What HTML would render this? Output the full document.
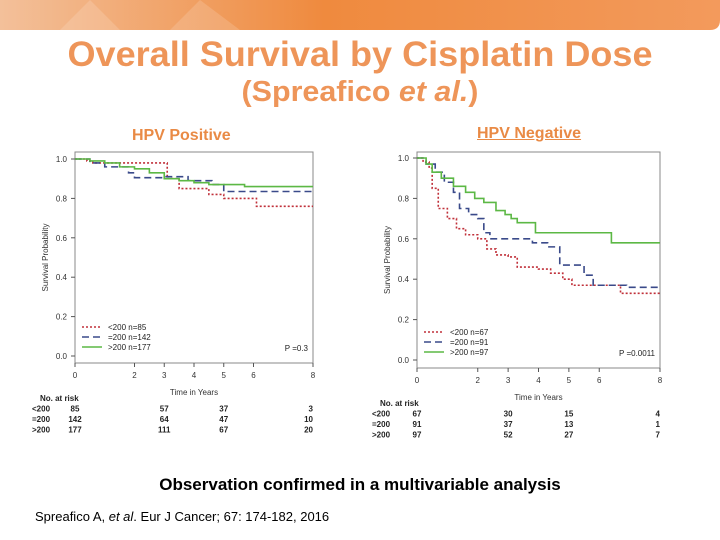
<!DOCTYPE html>
<html><head><meta charset="utf-8"><style>
body{margin:0;width:720px;height:540px;overflow:hidden;background:#fff;font-family:"Liberation Sans",sans-serif;position:relative}
.t{position:absolute;white-space:nowrap}
</style></head><body>
<svg width="720" height="32" style="position:absolute;left:0;top:0">
<defs><linearGradient id="g" x1="0" x2="1"><stop offset="0" stop-color="#f3c09a"/><stop offset="0.45" stop-color="#ef8a3e"/><stop offset="1" stop-color="#f39a5c"/></linearGradient></defs>
<path d="M0 0H720V20Q720 30 710 30H0Z" fill="url(#g)"/>
<path d="M60 30L90 0L120 30Z M170 30L200 0L240 30Z" fill="#fff" opacity="0.15"/>
</svg>
<div class="t" style="left:0;width:720px;text-align:center;top:35px;font-size:35px;font-weight:bold;color:#ee9559;transform:scaleX(1.03)">Overall Survival by Cisplatin Dose</div>
<div class="t" style="left:0;width:720px;text-align:center;top:76px;font-size:29px;font-weight:bold;color:#ee9559;transform:scaleX(1.05)">(Spreafico <i>et al.</i>)</div>
<div class="t" style="left:132px;top:127px;font-size:16px;font-weight:bold;color:#e98a45">HPV Positive</div>
<div class="t" style="left:477px;top:125px;font-size:16px;font-weight:bold;color:#e98a45;text-decoration:underline">HPV Negative</div>
<div class="t" style="left:0;width:720px;text-align:center;top:475px;font-size:17px;font-weight:bold;color:#000">Observation confirmed in a multivariable analysis</div>
<div class="t" style="left:35px;top:509px;font-size:13px;color:#000">Spreafico A, <i>et al</i>. Eur J Cancer; 67: 174-182, 2016</div>
<svg id="c" width="720" height="540" style="position:absolute;left:0;top:0"></svg>
<script>
const posRedT=[0,0.4,0.6,2.9,3.1,3.5,4.5,5.0,6.1];
const posRedS=[1,0.99,0.98,0.98,0.9,0.85,0.82,0.80,0.76];
const posBlueT=[0,0.5,1.0,1.8,2.0,3.0,3.8,4.6,5.0];
const posBlueS=[1,0.98,0.96,0.93,0.905,0.91,0.89,0.87,0.835];
const posGreenT=[0,0.5,1.0,1.5,2.0,2.5,3.0,3.5,4.0,4.5,5.7];
const posGreenS=[1,0.99,0.98,0.96,0.95,0.93,0.90,0.89,0.88,0.87,0.86];
const negRedT=[0,0.2,0.4,0.5,0.7,1.0,1.3,1.6,2.0,2.3,2.6,3.0,3.3,4.0,4.4,4.8,5.1,6.7];
const negRedS=[1,0.98,0.95,0.85,0.75,0.70,0.65,0.62,0.60,0.55,0.52,0.51,0.46,0.45,0.43,0.40,0.37,0.33];
const negBlueT=[0,0.3,0.6,0.9,1.2,1.4,1.7,2.0,2.2,2.4,3.8,4.3,4.7,5.5,5.8,6.9];
const negBlueS=[1,0.97,0.93,0.88,0.83,0.75,0.72,0.70,0.63,0.60,0.58,0.56,0.47,0.42,0.37,0.36];
const negGreenT=[0,0.3,0.5,0.8,1.2,1.6,1.9,2.2,2.6,2.9,3.1,3.3,3.9,6.4];
const negGreenS=[1,0.97,0.93,0.90,0.86,0.83,0.80,0.78,0.74,0.72,0.70,0.68,0.63,0.58];
const xTicks=[0,2,3,4,5,6,8];
const yTicks=[0,0.2,0.4,0.6,0.8,1.0];
const riskCols=[0,3,5,8];
const posRisk=[["<200",85,57,37,3],["=200",142,64,47,10],[">200",177,111,67,20]];
const negRisk=[["<200",67,30,15,4],["=200",91,37,13,1],[">200",97,52,27,7]];
const posLegend=["<200  n=85","=200  n=142",">200  n=177"];
const negLegend=["<200  n=67","=200  n=91",">200  n=97"];
const svg=document.getElementById('c');
const NS='http://www.w3.org/2000/svg';
function mk(tag,at,txt){const e=document.createElementNS(NS,tag);for(const k in at)e.setAttribute(k,at[k]);if(txt!=null)e.textContent=txt;svg.appendChild(e);return e;}
const styles=[{c:'#c0303a',d:'2,2'},{c:'#3a4a8a',d:'7,4'},{c:'#5cb845',d:''}];
function chart(p){
 const X=t=>p.x0+t*(p.x8-p.x0)/8, Y=s=>p.y0+s*(p.y1-p.y0);
 const box=mk('rect',{x:p.x0,y:p.bt,width:p.x8-p.x0,height:p.bb-p.bt,fill:'none',stroke:'#888','stroke-width':1});
 
 yTicks.forEach(v=>{const l=mk('line',{x1:p.x0-4,x2:p.x0,y1:Y(v),y2:Y(v),stroke:'#555'});
  const t=mk('text',{x:p.x0-8,y:Y(v)+3,'font-size':8,'text-anchor':'end',fill:'#333'},v.toFixed(1));});
 xTicks.forEach(v=>{const l=mk('line',{x1:X(v),x2:X(v),y1:p.bb,y2:p.bb+4,stroke:'#555'});
  const t=mk('text',{x:X(v),y:p.bb+15,'font-size':8,'text-anchor':'middle',fill:'#333'},v);});
 const xt=mk('text',{x:(p.x0+p.x8)/2,y:p.bb+32,'font-size':8,'text-anchor':'middle',fill:'#333'},'Time in Years');
 const yt=mk('text',{x:0,y:0,'font-size':8,'text-anchor':'middle',fill:'#333',transform:`translate(${p.x0-27},${(p.bt+p.bb)/2}) rotate(-90)`},'Survival Probability');
 p.series.forEach((sr,i)=>{let d=`M${X(sr[0][0])},${Y(sr[1][0])}`;for(let k=1;k<sr[0].length;k++){d+=`H${X(sr[0][k])}V${Y(sr[1][k])}`;}d+=`H${X(8)}`;
  const pa=mk('path',{d:d,fill:'none',stroke:styles[i].c,'stroke-width':1.6,'stroke-dasharray':styles[i].d});
  const ly=p.bb-36+i*10;const ll=mk('line',{x1:p.x0+7,x2:p.x0+27,y1:ly,y2:ly,stroke:styles[i].c,'stroke-width':1.6,'stroke-dasharray':styles[i].d});
  const lt=mk('text',{x:p.x0+33,y:ly+3,'font-size':8,fill:'#222','xml:space':'preserve'},p.legend[i]);});
 const pv=mk('text',{x:p.x8-5,y:p.bb-12,'font-size':8,'text-anchor':'end',fill:'#222'},p.pval);
 const nr=mk('text',{x:p.rx+8,y:p.ry,'font-size':8,'font-weight':'bold',fill:'#222'},'No. at risk');
 p.risk.forEach((row,r)=>{const yy=p.ry+10.5*(r+1);const lb=mk('text',{x:p.rx,y:yy,'font-size':8,'font-weight':'bold',fill:'#222'},row[0]);
  riskCols.forEach((c,j)=>{const t=mk('text',{x:X(c),y:yy,'font-size':8,'font-weight':'bold','text-anchor':j==3?'end':'middle',fill:'#222'},row[j+1]);});});
}
chart({id:'hpv-pos',x0:75,x8:313,y0:356,y1:159,bt:152,bb:363,pval:'P =0.3',legend:posLegend,risk:posRisk,rx:32,ry:401,
 series:[[posRedT,posRedS],[posBlueT,posBlueS],[posGreenT,posGreenS]]});
chart({id:'hpv-neg',x0:417,x8:660,y0:360,y1:158,bt:152,bb:368,pval:'P =0.0011',legend:negLegend,risk:negRisk,rx:372,ry:406,
 series:[[negRedT,negRedS],[negBlueT,negBlueS],[negGreenT,negGreenS]]});
</script>
</body></html>
